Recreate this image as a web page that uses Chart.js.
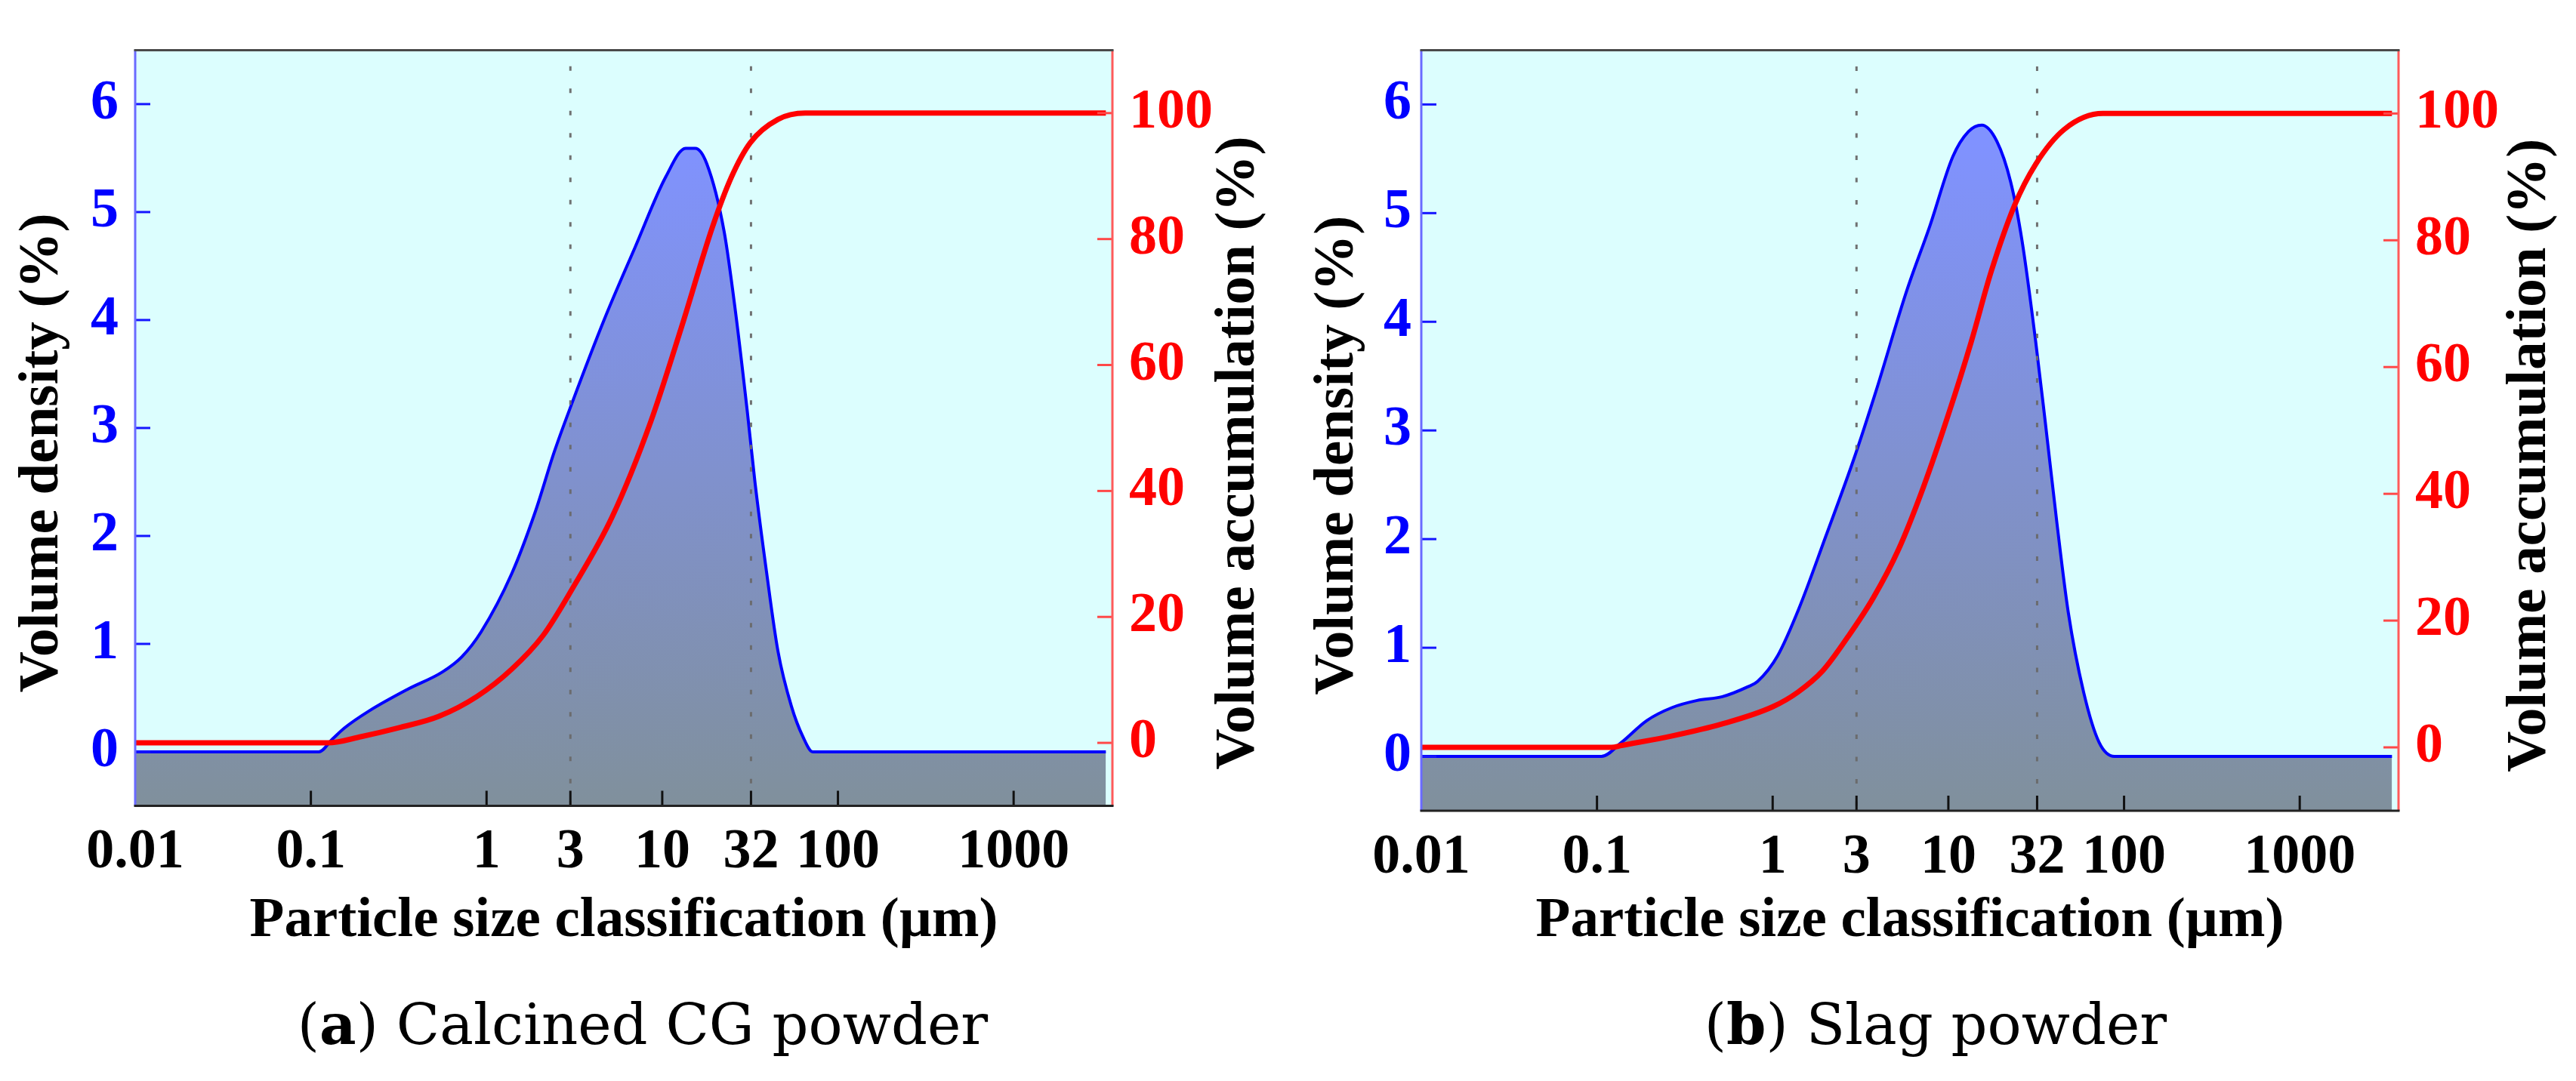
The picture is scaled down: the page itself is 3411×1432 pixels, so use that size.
<!DOCTYPE html>
<html>
<head>
<meta charset="utf-8">
<script src="https://cdn.jsdelivr.net/npm/chart.js@4.4.1/dist/chart.umd.min.js"></script>
<style>
html,body{margin:0;padding:0;background:#fff;width:3411px;height:1432px;overflow:hidden;}
canvas{position:absolute;top:0;}
.cap{position:absolute;top:1320px;font-family:'DejaVu Serif',serif;font-size:75px;line-height:75px;white-space:nowrap;transform:translateX(-50%);color:#000;}
.cap b{font-weight:bold;}
</style>
</head>
<body>
<canvas id="chartA" width="1700" height="1300" style="left:0px"></canvas>
<canvas id="chartB" width="1711" height="1300" style="left:1700px"></canvas>
<div class="cap" style="left:851px">(<b>a</b>) Calcined CG powder</div>
<div class="cap" style="left:2563px">(<b>b</b>) Slag powder</div>
<script>
// ---- tick values / labels ----
const sizeTicks = [0.01, 0.1, 1, 3, 10, 32, 100, 1000];
const sizeTickLabels = ['0.01', '0.1', '1', '3', '10', '32', '100', '1000'];
const densityTicks = [0, 1, 2, 3, 4, 5, 6];
const accumTicks = [0, 20, 40, 60, 80, 100];
const refSizes = [3, 32];

// ---- (a) Calcined CG powder ----
const sizesA = [0.01, 0.111, 0.133, 0.155, 0.215, 0.356, 0.561, 0.723, 0.93, 1.39, 1.89, 2.43, 3.08, 4.69, 7.03, 10.5, 13.6, 15.4, 17.9, 22.5, 26.1, 30.5, 33.7, 39.2, 45.6, 54.4, 63.2, 71.9, 3350];
const densityA = [0, 0, 0.12, 0.22, 0.38, 0.58, 0.74, 0.88, 1.11, 1.65, 2.22, 2.78, 3.24, 4.01, 4.68, 5.33, 5.59, 5.59, 5.45, 4.82, 4.08, 3.15, 2.50, 1.67, 0.93, 0.42, 0.14, 0, 0];
const cumSizesA = [0.01, 0.125, 0.194, 0.322, 0.534, 0.885, 1.39, 2.09, 3.08, 5.19, 8.6, 12.9, 19.3, 24.9, 31.7, 45.6, 65, 3350];
const cumA = [0, 0, 1.0, 2.45, 4.2, 7.4, 11.7, 17.0, 24.5, 35.9, 51.0, 66.1, 81.9, 90.0, 95.3, 99.0, 100, 100];

// ---- (b) Slag powder ----
const sizesB = [0.01, 0.106, 0.138, 0.192, 0.268, 0.372, 0.517, 0.72, 0.82, 1.07, 1.41, 2.0, 2.93, 3.87, 5.78, 7.84, 10.6, 13.0, 15.5, 18.9, 22.6, 26.3, 31.4, 35.6, 41.4, 48.1, 58.9, 72.1, 88.2, 3350];
const densityB = [0, 0, 0.13, 0.33, 0.45, 0.515, 0.55, 0.64, 0.69, 0.93, 1.36, 2.02, 2.76, 3.36, 4.28, 4.88, 5.52, 5.75, 5.81, 5.66, 5.29, 4.74, 3.82, 3.08, 2.16, 1.33, 0.59, 0.13, 0, 0];
const cumSizesB = [0.01, 0.121, 0.138, 0.268, 0.517, 1.0, 1.39, 1.93, 2.69, 3.74, 5.2, 7.22, 10, 13.5, 17.5, 23.8, 31.4, 45.7, 75.8, 3350];
const cumB = [0, 0, 0.3, 1.8, 3.7, 6.4, 8.7, 12.1, 17.5, 23.6, 31.2, 41.1, 52.5, 64, 75, 85.5, 92, 97.5, 100, 100];

const xTitle = 'Particle size classification (µm)';
const yLeftTitle = 'Volume density (%)';
const yRightTitle = 'Volume accumulation (%)';

const tickFont = {family: 'Liberation Serif', size: 74, weight: 'bold'};
const titleFont = {family: 'Liberation Serif', size: 75, weight: 'bold'};

const backgroundPlugin = {
  id: 'plotBg',
  beforeDraw(chart) {
    const {ctx, chartArea: a} = chart;
    ctx.save();
    ctx.fillStyle = '#DCFEFE';
    ctx.fillRect(a.left, a.top, a.right - a.left, a.bottom - a.top);
    ctx.restore();
  }
};

const framePlugin = {
  id: 'frame',
  afterDraw(chart, args, opts) {
    const {ctx, chartArea: a, scales} = chart;
    ctx.save();
    ctx.lineWidth = 3;
    ctx.lineCap = 'butt';
    // inward x ticks
    ctx.strokeStyle = '#111';
    sizeTicks.forEach(v => {
      if (v <= scales.x.min) return;
      const px = scales.x.getPixelForValue(v);
      ctx.beginPath(); ctx.moveTo(px, a.bottom); ctx.lineTo(px, a.bottom - 20); ctx.stroke();
    });
    // inward left ticks
    ctx.strokeStyle = '#1515FF';
    densityTicks.forEach(v => {
      const py = scales.yL.getPixelForValue(v);
      ctx.beginPath(); ctx.moveTo(a.left, py); ctx.lineTo(a.left + 20, py); ctx.stroke();
    });
    // inward right ticks
    ctx.strokeStyle = '#FF4848';
    accumTicks.forEach(v => {
      const py = scales.yR.getPixelForValue(v);
      ctx.beginPath(); ctx.moveTo(a.right, py); ctx.lineTo(a.right - 20, py); ctx.stroke();
    });
    // axis lines
    ctx.strokeStyle = '#6A6AFF';
    ctx.beginPath(); ctx.moveTo(a.left, a.top); ctx.lineTo(a.left, a.bottom); ctx.stroke();
    ctx.strokeStyle = '#FF5A5A';
    ctx.beginPath(); ctx.moveTo(a.right, a.top); ctx.lineTo(a.right, a.bottom); ctx.stroke();
    ctx.strokeStyle = '#4A4A4A';
    ctx.beginPath(); ctx.moveTo(a.left - 1.5, a.top); ctx.lineTo(a.right + 1.5, a.top); ctx.stroke();
    ctx.strokeStyle = '#222';
    ctx.beginPath(); ctx.moveTo(a.left - 1.5, a.bottom); ctx.lineTo(a.right + 1.5, a.bottom); ctx.stroke();
    // rotated y-axis titles
    const cy = (a.top + a.bottom) / 2 + 33;
    ctx.fillStyle = '#000';
    ctx.font = 'bold 75px "Liberation Serif"';
    ctx.textAlign = 'center';
    ctx.textBaseline = 'alphabetic';
    [[a.left - opts.leftTitleOff, yLeftTitle], [a.right + opts.rightTitleOff, yRightTitle]].forEach(([x, t]) => {
      ctx.save();
      ctx.translate(x, cy);
      ctx.rotate(-Math.PI / 2);
      ctx.fillText(t, 0, 0);
      ctx.restore();
    });
    ctx.restore();
  }
};

function pts(xs, ys) { return xs.map((x, i) => ({x: x, y: ys[i]})); }

function makeChart(id, cfg) {
  const canvas = document.getElementById(id);
  const W = canvas.width, H = canvas.height;
  const area = cfg.area;
  const datasets = [
    {
      label: 'Volume accumulation',
      data: pts(cfg.cumSizes, cfg.cum),
      yAxisID: 'yR', borderColor: '#FF0000', borderWidth: 7,
      pointRadius: 0, fill: false, cubicInterpolationMode: 'monotone', order: 1
    },
    {
      label: 'Volume density',
      data: pts(cfg.sizes, cfg.density),
      yAxisID: 'yL', borderColor: '#0000FF', borderWidth: 4,
      pointRadius: 0, cubicInterpolationMode: 'monotone', order: 3,
      fill: 'start',
      backgroundColor: (c) => {
        const ch = c.chart, a = ch.chartArea;
        if (!a) return 'rgb(128,144,210)';
        const g = ch.ctx.createLinearGradient(0, a.top, 0, a.bottom);
        g.addColorStop(0, 'rgb(128,146,255)');
        g.addColorStop(0.12, 'rgb(128,146,255)');
        g.addColorStop(1, 'rgb(128,144,156)');
        return g;
      }
    }
  ];
  refSizes.forEach(s => {
    datasets.push({
      label: 'ref ' + s,
      data: [{x: s, y: 6.35}, {x: s, y: -0.5}],
      yAxisID: 'yL', borderColor: 'rgba(105,105,105,0.95)', borderWidth: 3,
      borderDash: [6, 23.5], pointRadius: 0, fill: false, order: 2
    });
  });
  return new Chart(canvas, {
    type: 'line',
    data: {datasets: datasets},
    plugins: [backgroundPlugin, framePlugin],
    options: {
      responsive: false,
      animation: false,
      devicePixelRatio: 1,
      layout: {padding: {top: area.top, left: 0, right: 0, bottom: 0}},
      plugins: {
        legend: {display: false},
        tooltip: {enabled: false},
        frame: {leftTitleOff: cfg.leftTitleOff, rightTitleOff: cfg.rightTitleOff}
      },
      scales: {
        x: {
          type: 'logarithmic', position: 'bottom', min: 0.01, max: 3650,
          afterFit: s => { s.height = H - area.bottom; },
          afterBuildTicks: s => { s.ticks = sizeTicks.map(v => ({value: v})); },
          grid: {display: false, drawTicks: false},
          border: {display: false},
          ticks: {
            autoSkip: false, maxRotation: 0, minRotation: 0, padding: 18,
            color: '#000', font: tickFont,
            callback: (v, i) => sizeTickLabels[i]
          },
          title: {display: true, text: xTitle, color: '#000', font: titleFont, padding: {top: 0, bottom: 34}}
        },
        yL: {
          type: 'linear', position: 'left', min: -0.5, max: 6.5,
          afterFit: s => { s.width = area.left; },
          afterBuildTicks: s => { s.ticks = densityTicks.map(v => ({value: v})); },
          grid: {display: false, drawTicks: false},
          border: {display: false},
          ticks: {color: '#0000FF', font: tickFont, padding: cfg.leftPad}
        },
        yR: {
          type: 'linear', position: 'right', min: -10, max: 110,
          afterFit: s => { s.width = W - area.right; },
          afterBuildTicks: s => { s.ticks = accumTicks.map(v => ({value: v})); },
          grid: {display: false, drawTicks: false},
          border: {display: false},
          ticks: {color: '#FF0000', font: tickFont, padding: 22}
        }
      }
    }
  });
}

makeChart('chartA', {
  sizes: sizesA, density: densityA, cumSizes: cumSizesA, cum: cumA,
  area: {left: 179, right: 1473, top: 26, bottom: 1067.5},
  leftPad: 22, leftTitleOff: 103, rightTitleOff: 187
});
makeChart('chartB', {
  sizes: sizesB, density: densityB, cumSizes: cumSizesB, cum: cumB,
  area: {left: 182, right: 1476, top: 25.7, bottom: 1074},
  leftPad: 13, leftTitleOff: 91, rightTitleOff: 194
});
</script>
</body>
</html>
